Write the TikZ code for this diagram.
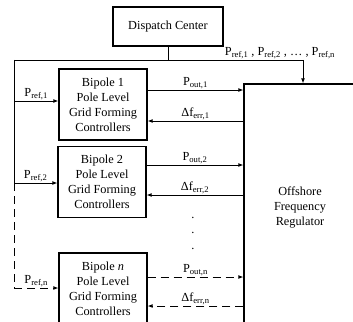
\documentclass[tikz,border=0pt]{standalone}
\usepackage{fontspec}
\setmainfont{Liberation Serif}
\usetikzlibrary{arrows.meta}
\tikzset{
  blk/.style={draw,line width=1.3pt,minimum width=88pt,minimum height=71pt,align=center,inner sep=0pt},
  wire/.style={line width=0.9pt},
  sig/.style={wire,-{Latex[length=5pt,width=4pt]}},
  dwire/.style={wire,dash pattern=on 8pt off 5pt},
  dsig/.style={sig,dash pattern=on 8pt off 5pt},
  lbl/.style={inner sep=1pt}
}
\begin{document}
\begin{tikzpicture}[x=1pt,y=-1pt,font=\fontsize{12.3}{15}\selectfont]
	\useasboundingbox (0,0) rectangle (353,321);
	\clip (0,0) rectangle (353,321);
	% blocks
	\node[blk,minimum width=110pt,minimum height=39pt] (dc) at (168,26.5) {Dispatch Center};
	\node[blk] (b1) at (103,104.5) {Bipole 1\\Pole Level\\Grid Forming\\Controllers};
	\node[blk] (b2) at (102,182) {Bipole 2\\Pole Level\\Grid Forming\\Controllers};
	\node[blk] (bn) at (103,288.5) {Bipole \textit{n}\\Pole Level\\Grid Forming\\Controllers};
	\node[blk,minimum width=112pt,minimum height=246pt] (reg) at (300,207) {Offshore\\Frequency\\Regulator};
	% reference bus
	\coordinate (busL) at (14,60);
	\coordinate (busR) at (303,60);
	\coordinate (bus2) at (14,183);
	\coordinate (busN) at (14,288);
	\draw[wire] (dc.south) -- (dc.south |- busL);
	\draw[wire] (busL) -- (busR);
	\draw[sig] (busR) -- (busR |- reg.north);
	\node[anchor=base] (plist) at (280,56) {P\textsubscript{ref,1} , P\textsubscript{ref,2} , \dots{} , P\textsubscript{ref,n}};
	\draw[wire] (busL) -- (bus2);
	\draw[dwire] (bus2) -- (busN);
	% bipole 1
	\draw[sig] (busL |- 0,101) -- (b1.west |- 0,101) node[lbl,midway,above] (pr1) {P\textsubscript{ref,1}};
	\draw[sig] (b1.east |- 0,90) -- (reg.west |- 0,90) node[lbl,midway,above] (po1) {P\textsubscript{out,1}};
	\draw[sig] (reg.west |- 0,121) -- (b1.east |- 0,121) node[lbl,midway,above] (df1) {Δf\textsubscript{err,1}};
	% bipole 2
	\draw[sig] (bus2) -- (b2.west |- bus2) node[lbl,midway,above] (pr2) {P\textsubscript{ref,2}};
	\draw[sig] (b2.east |- 0,165) -- (reg.west |- 0,165) node[lbl,midway,above] (po2) {P\textsubscript{out,2}};
	\draw[sig] (reg.west |- 0,195) -- (b2.east |- 0,195) node[lbl,midway,above] (df2) {Δf\textsubscript{err,2}};
	\node (dot1) at (193,218) {.};
	\node (dot2) at (193,233) {.};
	\node (dot3) at (193,249) {.};
	% bipole n
	\draw[dsig] (busN) -- (bn.west |- busN) node[lbl,midway,above] (prn) {P\textsubscript{ref,n}};
	\draw[dsig] (bn.east |- 0,277) -- (reg.west |- 0,277) node[lbl,midway,above] (pon) {P\textsubscript{out,n}};
	\draw[dsig] (reg.west |- 0,306) -- (bn.east |- 0,306) node[lbl,midway,above] (dfn) {Δf\textsubscript{err,n}};
\end{tikzpicture}
\end{document}
